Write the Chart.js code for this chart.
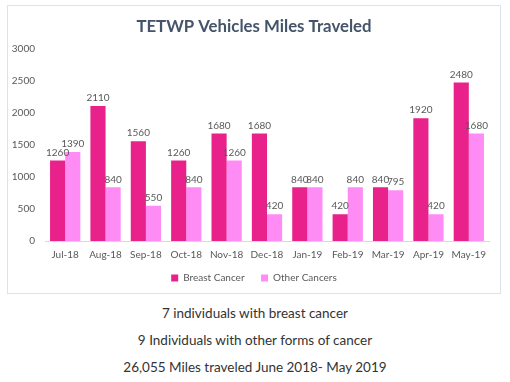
<!DOCTYPE html>
<html>
<head>
<meta charset="utf-8">
<script src="https://cdn.jsdelivr.net/npm/chart.js@4/dist/chart.umd.min.js"></script>
<style>
  html, body { margin: 0; padding: 0; background: #ffffff; }
  body { width: 510px; height: 382px; position: relative; overflow: hidden; font-family: Lato, "Open Sans", sans-serif; }
  #box { position: absolute; left: 7px; top: 5px; width: 494px; height: 289px; border: 1px solid #dde3ea; box-sizing: border-box; }
  #box canvas { display: block; }
  .note { position: absolute; left: 0; width: 510px; text-align: center; font-size: 13.5px; color: #333333; font-family: Lato, "Open Sans", sans-serif; }
</style>
</head>
<body>
<div id="box"><canvas id="c" width="492" height="287"></canvas></div>
<div class="note" style="top:305px;">7 individuals with breast cancer</div>
<div class="note" style="top:332px;">9 Individuals with other forms of cancer</div>
<div class="note" style="top:359px;">26,055 Miles traveled June 2018- May 2019</div>
<script>
const categories = ["Jul-18","Aug-18","Sep-18","Oct-18","Nov-18","Dec-18","Jan-19","Feb-19","Mar-19","Apr-19","May-19"];
const breastCancer = [1260, 2110, 1560, 1260, 1680, 1680, 840, 420, 840, 1920, 2480];
const otherCancers = [1390, 840, 550, 840, 1260, 420, 840, 840, 795, 420, 1680];
const yTicks = [0, 500, 1000, 1500, 2000, 2500, 3000];

const FONT = 'Lato, "Open Sans", sans-serif';
const SMALL = 10;

const labelPlugin = {
  id: 'valueLabels',
  afterDatasetsDraw(chart) {
    const ctx = chart.ctx;
    ctx.save();
    ctx.font = SMALL + 'px ' + FONT;
    ctx.fillStyle = '#595959';
    ctx.textAlign = 'center';
    ctx.textBaseline = 'bottom';
    chart.data.datasets.forEach((ds, i) => {
      const meta = chart.getDatasetMeta(i);
      meta.data.forEach((bar, j) => {
        ctx.fillText(String(ds.data[j]), bar.x, bar.y - 3);
      });
    });
    ctx.restore();
  }
};

new Chart(document.getElementById('c'), {
  type: 'bar',
  data: {
    labels: categories,
    datasets: [
      { label: 'Breast Cancer', data: breastCancer, backgroundColor: '#e8228a', borderWidth: 0 },
      { label: 'Other Cancers', data: otherCancers, backgroundColor: '#ff8cf5', borderWidth: 0 }
    ]
  },
  options: {
    responsive: false,
    animation: false,
    devicePixelRatio: 1,
    layout: { padding: { left: 0, right: 0, top: 0, bottom: 0 } },
    datasets: { bar: { categoryPercentage: 0.75, barPercentage: 1.0 } },
    plugins: {
      title: {
        display: true,
        text: 'TETWP Vehicles Miles Traveled',
        color: '#44546a',
        font: { family: FONT, size: 16.8, weight: 'bold' },
        padding: { top: 11, bottom: 12 }
      },
      legend: {
        position: 'bottom',
        labels: {
          boxWidth: 7, boxHeight: 7,
          color: '#595959',
          font: { family: FONT, size: SMALL },
          padding: 4,
          generateLabels(chart) {
            const items = Chart.defaults.plugins.legend.labels.generateLabels(chart);
            items.forEach((it, i) => { if (i < items.length - 1) it.text = it.text + '\u2003\u2002'; });
            return items;
          }
        }
      },
      tooltip: { enabled: false }
    },
    scales: {
      x: {
        grid: { display: false, drawTicks: false },
        border: { color: '#d9d9d9' },
        ticks: { color: '#595959', font: { family: FONT, size: SMALL }, padding: 8, maxRotation: 0, minRotation: 0, autoSkip: false }
      },
      y: {
        min: 0, max: 3000,
        afterBuildTicks(axis) { axis.ticks = yTicks.map(v => ({ value: v })); },
        afterFit(axis) { axis.width = 37; },
        grid: { display: false, drawTicks: false },
        border: { display: false },
        ticks: { color: '#595959', font: { family: FONT, size: SMALL }, padding: 10, callback: v => String(v) }
      },
      yRightSpace: {
        position: 'right',
        min: 0, max: 1,
        afterFit(axis) { axis.width = 11; },
        grid: { display: false, drawTicks: false },
        border: { display: false },
        ticks: { display: false }
      }
    }
  },
  plugins: [labelPlugin]
});
</script>
</body>
</html>
